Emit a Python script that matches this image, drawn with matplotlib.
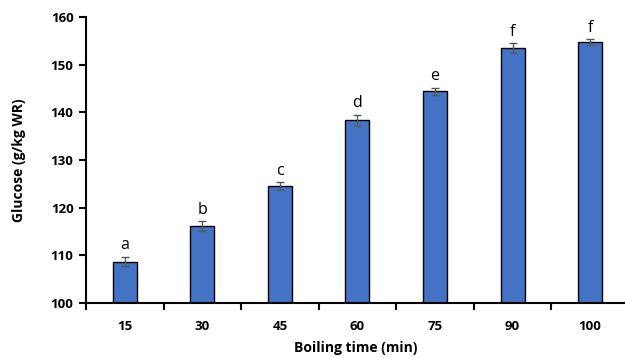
import matplotlib.pyplot as plt
import numpy as np
from matplotlib.ticker import FixedLocator

times = ['15', '30', '45', '60', '75', '90', '100']
glucose = [108.7, 116.2, 124.5, 138.3, 144.4, 153.4, 154.7]
errors = [1.0, 1.0, 0.85, 1.2, 0.75, 1.05, 0.6]
letters = ['a', 'b', 'c', 'd', 'e', 'f', 'f']

plt.rcParams['font.family'] = ['Open Sans', 'DejaVu Sans']

fig = plt.figure(figsize=(6.25, 3.58), dpi=100)
ax = fig.add_axes([0.1376, 0.1536, 0.8624, 0.7989])

x = np.arange(len(times))
ax.bar(x, glucose, width=0.31, color='#4472C4', edgecolor='black', linewidth=1.0, zorder=2)
ax.errorbar(x, glucose, yerr=errors, fmt='none', ecolor='#595959', elinewidth=1.0,
            capsize=3, capthick=1.0, zorder=3)

for xi, g, e, lab in zip(x, glucose, errors, letters):
    ax.text(xi, g + e + 0.7, lab, ha='center', va='bottom', fontsize=11.5, color='black')

ax.set_xlim(-0.5, 6.45)
ax.set_ylim(100, 160)
ax.set_yticks(np.arange(100, 161, 10))
ax.set_xticks(x)
ax.set_xticklabels(times)
ax.xaxis.set_minor_locator(FixedLocator(np.arange(-0.5, 7, 1)))
ax.tick_params(axis='x', which='major', length=0, pad=12)
ax.tick_params(axis='x', which='minor', length=5, width=1.5, direction='out')
ax.tick_params(axis='y', length=5, width=1.5, direction='out', pad=4)
for lab in ax.get_xticklabels() + ax.get_yticklabels():
    lab.set_fontweight('bold')
    lab.set_fontsize(9.5)

for side in ['top', 'right']:
    ax.spines[side].set_visible(False)
for side in ['left', 'bottom']:
    ax.spines[side].set_linewidth(1.5)

ax.set_ylabel('Glucose (g/kg WR)', fontsize=10, fontweight='bold', labelpad=18)
ax.set_xlabel('Boiling time (min)', fontsize=10, fontweight='bold', labelpad=6)

fig.savefig('out.png', dpi=100)
